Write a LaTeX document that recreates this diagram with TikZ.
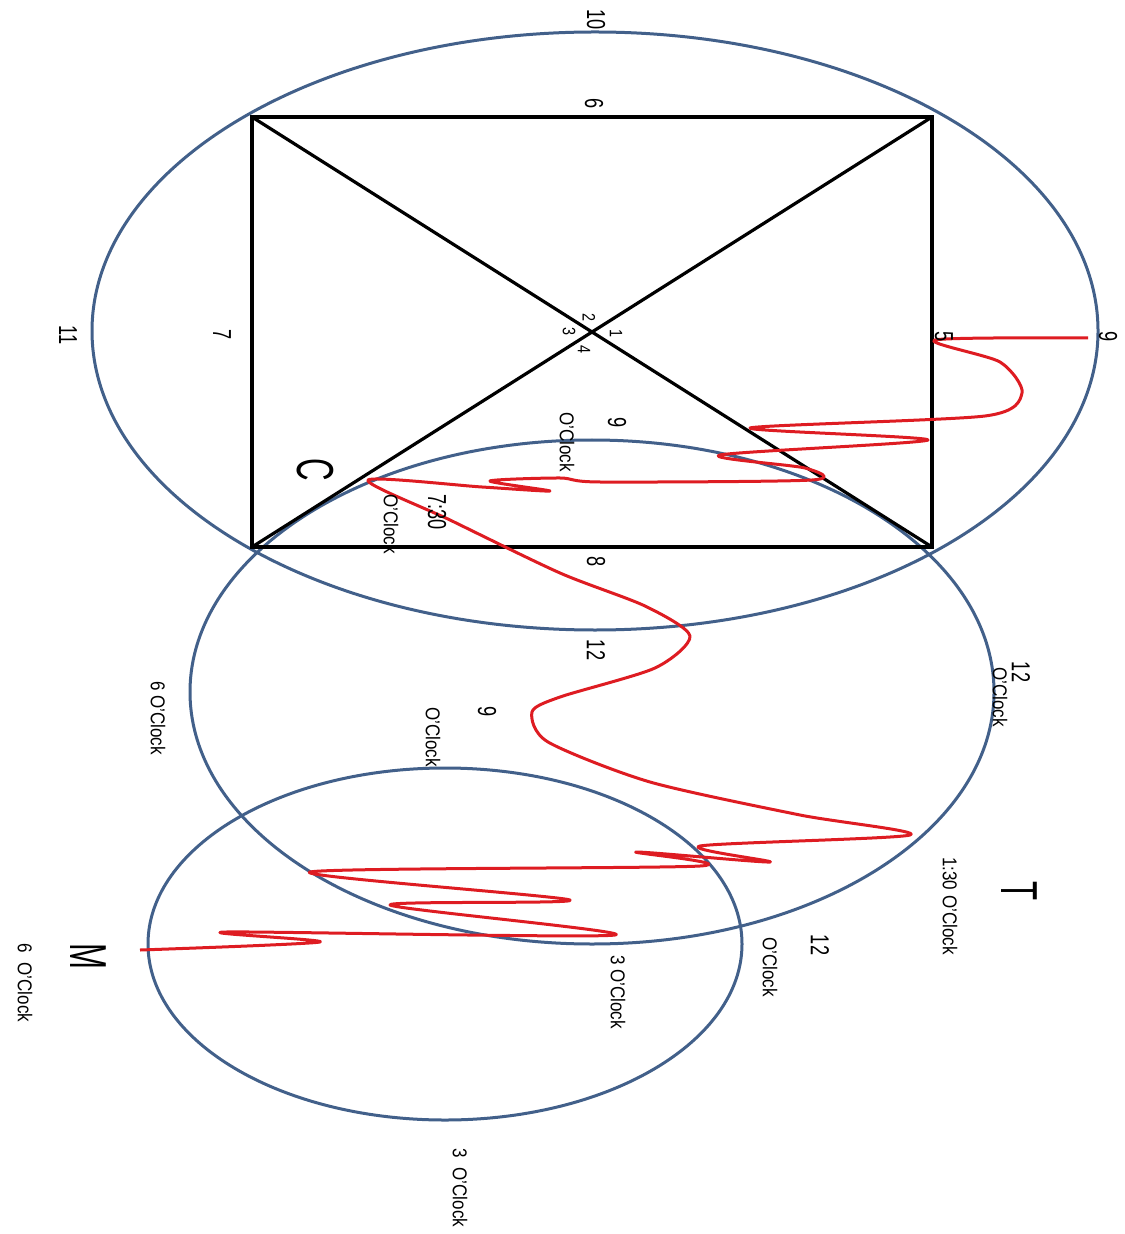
\documentclass[tikz,border=0pt]{standalone}
\usepackage{fontspec}
\setmainfont{Liberation Sans}
\definecolor{ringC}{RGB}{66,96,138}
\definecolor{trailC}{RGB}{222,28,34}

\begin{document}
\begin{tikzpicture}[
  x=0.5pt,y=-0.5pt,
  ring/.style={draw=ringC,line width=1.5pt},
  edge/.style={draw=black,line width=1.6pt},
  trail/.style={draw=trailC,line width=1.5pt,line join=round},
  lbl/.style={rotate=-90,xscale=0.85,inner sep=0pt,
              font=\fontsize{10}{12}\selectfont},
  num/.style={rotate=-90,xscale=0.7,inner sep=0pt,
              font=\fontsize{13}{15}\selectfont},
  tick/.style={rotate=-90,xscale=0.8,inner sep=0pt,
               font=\fontsize{9}{10}\selectfont},
  letter/.style={rotate=-90,xscale=0.6,inner sep=0pt,
                 font=\fontsize{26}{28}\selectfont}
]
  \useasboundingbox (0,0) rectangle (1124,1234);

  % Ellipses
  \draw[ring] (595,331) ellipse [x radius=503,y radius=299];
  \draw[ring] (592,692) ellipse [x radius=402,y radius=252];
  \draw[ring] (445,944) ellipse [x radius=297,y radius=176];

  % Rectangle and diagonals
  \coordinate (tl) at (252,117);
  \coordinate (tr) at (932,117);
  \coordinate (br) at (932,547);
  \coordinate (bl) at (252,547);
  \draw[edge] (tl) -- (tr) -- (br) -- (bl) -- cycle;
  \draw[edge] (tl) -- (br);
  \draw[edge] (tr) -- (bl);

  % Red trail
  \draw[trail] plot[smooth,tension=0.45] coordinates {
    (1088,338) (935,340) (1000,362) (1022,393) (985,416) (750,428)
    (928,440) (720,455) (805,468) (812,480) (600,482) (560,478)
    (490,481) (550,491) (482,487) (368,480)
    (450,520) (560,573) (645,606) (690,636) (655,668) (560,697)
    (532,712) (548,742) (650,782) (800,815) (910,835)
    (700,846) (770,862) (636,852) (700,866) (310,872)
    (570,900) (390,905) (615,935) (226,932) (320,942) (140,950)};

  % Big ellipse labels
  \node[num] (l10) at (596,20) {10};
  \node[num] (l6) at (594,104) {6};
  \node[num] (l11) at (68,335) {11};
  \node[num] (l7) at (222,335) {7};
  \node[num] (l9r) at (1108,337) {9};
  \node[num] (l5) at (944,337) {5};
  \node[tick] (q2) at (589,318) {2};
  \node[tick] (q3) at (569,332) {3};
  \node[tick] (q1) at (616,334) {1};
  \node[tick] (q4) at (584,350) {4};
  \node[num] (l9a) at (617,423) {9};
  \node[lbl] (oc9a) at (567,442) {O'Clock};
  \node[num] (l730) at (437,512) {7:30};
  \node[lbl] (oc730) at (391,524) {O'Clock};
  \node[num] (l8) at (596,562) {8};
  \node[letter] (cC) at (315,470) {C};

  % Middle ellipse labels
  \node[num] (l12a) at (596,650) {12};
  \node[num] (l9b) at (487,712) {9};
  \node[lbl] (oc9b) at (433,737) {O'Clock};
  \node[lbl] (oc6a) at (158,718) {6 O'Clock};
  \node[num] (l12b) at (1021,672) {12};
  \node[lbl] (oc12b) at (1000,697) {O'Clock};
  \node[letter] (tT) at (1019,891) {T};
  \node[lbl] (oc130) at (950,906) {1:30 O'Clock};

  % Small ellipse labels
  \node[num] (l12c) at (820,945) {12};
  \node[lbl] (oc12c) at (770,967) {O'Clock};
  \node[lbl] (oc3a) at (618,992) {3 O'Clock};
  \node[letter] (mM) at (88,956) {M};
  \node[lbl] (oc6b) at (25,983) {6\ \ O'Clock};
  \node[lbl] (oc3b) at (460,1188) {3\ \ O'Clock};
\end{tikzpicture}
\end{document}
